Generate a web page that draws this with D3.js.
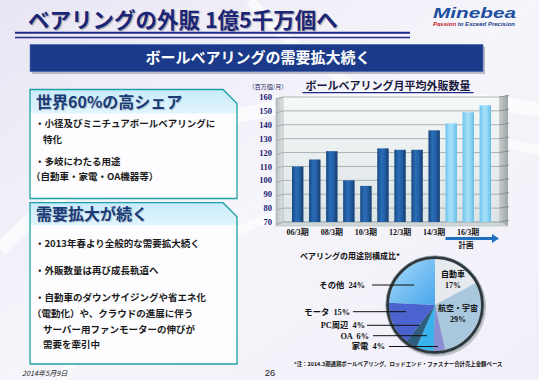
<!DOCTYPE html>
<html><head><meta charset="utf-8">
<script src="https://cdn.jsdelivr.net/npm/d3@7"></script>
<style>html,body{margin:0;padding:0;background:#fff}svg{display:block}</style>
</head><body><svg id="c" width="539" height="380"></svg>
<script>
// ---------- DATA ----------
const categories = ["06/3","07/3","08/3","09/3","10/3","11/3","12/3","13/3","14/3","15/3","16/3","17/3"];
const salesValues = [110,115,121,100,96,123,122,122,136,141,149,154];
const planFlags = [false,false,false,false,false,false,false,false,false,true,true,true];
const shownXLabels = ["06/3","08/3","10/3","12/3","14/3","16/3"];
const yTicks = [70,80,90,100,110,120,130,140,150,160];

const pieLabels = ["自動車","航空・宇宙","家電","OA","PC周辺","モータ","その他"];
const pieValues = [17,29,4,6,4,15,24];

const box1Lines = ["・小径及びミニチュアボールベアリングに","特化","・多岐にわたる用途","（自動車・家電・OA機器等）"];
const box2Lines = ["・2013年春より全般的な需要拡大続く","・外販数量は再び成長軌道へ","・自動車のダウンサイジングや省エネ化","（電動化）や、クラウドの進展に伴う","サーバー用ファンモーターの伸びが","需要を牽引中"];

// ---------- SETUP ----------
const JP = "'Noto Sans CJK JP','Noto Sans',sans-serif";
const SERIF = "'Liberation Serif','Noto Sans CJK JP',serif";
const svg = d3.select("#c");
const defs = svg.append("defs");

function linGrad(id, stops, x2, y2){
  const g = defs.append("linearGradient").attr("id", id).attr("x1",0).attr("y1",0).attr("x2",x2).attr("y2",y2);
  stops.forEach(s => g.append("stop").attr("offset", s[0]).attr("stop-color", s[1]));
}
linGrad("bg", [[0,"#e9e6f4"],[0.5,"#f6f5fb"],[1,"#f1eff8"]], 1, 1);
linGrad("barDark", [[0,"#17487f"],[0.35,"#2a6cb5"],[0.6,"#2563ab"],[1,"#143d70"]], 1, 0);
linGrad("barLight", [[0,"#6cc4ec"],[0.4,"#a6e0f8"],[0.65,"#98daf6"],[1,"#62bce6"]], 1, 0);
linGrad("wall", [[0,"#f7f8f8"],[1,"#dbe4e6"]], 0, 1);
linGrad("sideWall", [[0,"#b9bfc0"],[1,"#dfe3e3"]], 1, 0);
linGrad("rightWall", [[0,"#c9cdce"],[1,"#9ea5a6"]], 1, 0);
linGrad("boxHead", [[0,"#c6ebfb"],[1,"#e2f5fd"]], 0, 1);
linGrad("other", [[0,"#a6dcfa"],[1,"#4aa6ea"]], 1, 1);

// ---------- BACKGROUND ----------
svg.append("rect").attr("width",539).attr("height",380).attr("fill","url(#bg)");
const arcs = svg.append("g").attr("fill","none").attr("stroke","#ffffff").attr("opacity",0.7);
arcs.append("path").attr("d","M0,250 C120,120 330,70 539,110").attr("stroke-width",14);
arcs.append("path").attr("d","M60,380 C140,260 260,200 420,190").attr("stroke-width",9);
arcs.append("path").attr("d","M250,0 C300,60 380,120 539,150").attr("stroke-width",10);

// ---------- HEADER ----------
svg.append("text").attr("x",28).attr("y",20).attr("dy","0.36em")
  .attr("font-family",JP).attr("font-weight","bold").attr("font-size",21.5)
  .attr("fill","#1b2577").attr("style","text-shadow:1.2px 1.2px 1px rgba(0,0,0,0.3)")
  .text("ベアリングの外販 1億5千万個へ");
svg.append("line").attr("x1",15).attr("x2",410).attr("y1",32.7).attr("y2",32.7).attr("stroke","#1f2a86").attr("stroke-width",2);
svg.append("line").attr("x1",15).attr("x2",410).attr("y1",37.5).attr("y2",37.5).attr("stroke","#1f2a86").attr("stroke-width",1.3);

// logo
svg.append("text").attr("x",433).attr("y",18).attr("font-family","'Liberation Sans',Arial,sans-serif")
  .attr("font-weight","bold").attr("font-style","italic").attr("font-size",14)
  .attr("textLength",83).attr("lengthAdjust","spacingAndGlyphs").attr("fill","#1d4f9f").text("Minebea");
const tag = svg.append("text").attr("x",433).attr("y",25.5).attr("font-family","'Liberation Sans',Arial,sans-serif")
  .attr("font-weight","bold").attr("font-style","italic").attr("font-size",5.6)
  .attr("textLength",82).attr("lengthAdjust","spacingAndGlyphs");
tag.append("tspan").attr("fill","#c8202a").text("Passion");
tag.append("tspan").attr("fill","#1d3f8f").text(" to Exceed Precision");

// banner
svg.append("rect").attr("x",32).attr("y",46.5).attr("width",453).attr("height",27.4).attr("fill","#b9b9c6");
svg.append("rect").attr("x",30).attr("y",44.3).attr("width",453).attr("height",27.4).attr("fill","#1b3b8a").attr("stroke","#5a74b8").attr("stroke-width",0.6);
svg.append("text").attr("x",258).attr("y",58).attr("dy","0.36em").attr("text-anchor","middle")
  .attr("font-family",JP).attr("font-weight","bold").attr("font-size",15).attr("fill","#ffffff")
  .text("ボールベアリングの需要拡大続く");

// ---------- LEFT BOXES ----------
function box(x,y,w,h,hh,title,lines,lineYs,lineXs){
  const c = 14;
  const g = svg.append("g");
  g.append("path").attr("d",`M${x},${y}H${x+w-c}L${x+w},${y+c}V${y+h}H${x}Z`).attr("fill","#fdfdff");
  g.append("path").attr("d",`M${x},${y}H${x+w-c}L${x+w},${y+c}V${y+hh}H${x}Z`).attr("fill","url(#boxHead)");
  g.append("path").attr("d",`M${x},${y}H${x+w-c}L${x+w},${y+c}V${y+h}H${x}Z`).attr("fill","none").attr("stroke","#1ea0a4").attr("stroke-width",1.3);
  g.append("text").attr("x",x+6).attr("y",y+hh/2+0.5).attr("dy","0.36em")
    .attr("font-family",JP).attr("font-weight","bold").attr("font-size",16).attr("fill","#1a3a78")
    .attr("style","text-shadow:1px 1px 1px rgba(0,0,0,0.2)").text(title);
  lines.forEach((t,i)=>{
    g.append("text").attr("x",lineXs[i]).attr("y",lineYs[i]).attr("dy","0.36em")
      .attr("font-family",JP).attr("font-weight","bold").attr("font-size",9.5).attr("fill","#1a1a1a").text(t);
  });
}
box(30,89.5,207,109,24,"世界60%の高シェア",box1Lines,[123.5,139.5,161.5,176.5],[35,43,35,31]);
box(30,202.7,207,161.3,22.5,"需要拡大が続く",box2Lines,[243.5,270.5,298,314,330,345],[35,35,35,32,43,43]);

// footer
svg.append("text").attr("x",22).attr("y",373).attr("dy","0.36em").attr("font-family",JP)
  .attr("font-style","italic").attr("font-size",7.2).attr("fill","#222").text("2014年5月9日");
svg.append("text").attr("x",270).attr("y",373).attr("dy","0.36em").attr("text-anchor","middle")
  .attr("font-family","'Liberation Sans',Arial,sans-serif").attr("font-size",9.5).attr("fill","#222").text("26");

// ---------- BAR CHART ----------
const wallL = 283, wallR = 499, depth = 7;
const y = d3.scaleLinear().domain([70,160]).range([222,97]);
const x = d3.scaleBand().domain(categories).range([292,491]).paddingInner(0.33).paddingOuter(0);

const ch = svg.append("g");
ch.append("text").attr("x",268).attr("y",86.5).attr("dy","0.36em").attr("text-anchor","middle")
  .attr("font-family",JP).attr("font-size",6).attr("fill","#1a1a60").text("（百万個/月）");
ch.append("text").attr("x",388).attr("y",86.5).attr("dy","0.36em").attr("text-anchor","middle")
  .attr("font-family",JP).attr("font-weight","bold").attr("font-size",11).attr("fill","#1a1a40")
  .text("ボールベアリング月平均外販数量");
ch.append("line").attr("x1",302.5).attr("x2",473.5).attr("y1",92.6).attr("y2",92.6).attr("stroke","#1f2a86").attr("stroke-width",1.2);

// walls
ch.append("rect").attr("x",wallL).attr("y",y(160)).attr("width",wallR-wallL).attr("height",y(70)-y(160)).attr("fill","url(#wall)");
ch.append("path").attr("d",`M${wallL-depth},${y(160)+2}L${wallL},${y(160)}V${y(70)}L${wallL-depth},${y(70)+4}Z`).attr("fill","url(#sideWall)").attr("stroke","#9aa2a3").attr("stroke-width",0.5);
ch.append("path").attr("d",`M${wallR},${y(160)}L${wallR+depth+2},${y(160)-2}V${y(70)+4}L${wallR},${y(70)}Z`).attr("fill","url(#rightWall)");
ch.append("path").attr("d",`M${wallL},${y(70)}H${wallR}L${wallR+depth+2},${y(70)+4}H${wallL-depth}Z`).attr("fill","#cfd7d8").attr("stroke","#aab2b3").attr("stroke-width",0.5);

// grid
ch.append("g").selectAll("path").data(yTicks).join("path")
  .attr("d",d=>`M${wallL-depth},${y(d)+2}L${wallL},${y(d)}H${wallR}`)
  .attr("fill","none").attr("stroke","#9aa3a5").attr("stroke-width",0.8);
ch.append("g").selectAll("line").data(yTicks).join("line")
  .attr("x1",wallR).attr("x2",wallR+depth+3).attr("y1",d=>y(d)).attr("y2",d=>y(d)-1.5)
  .attr("stroke","#7d8586").attr("stroke-width",0.8);

// y labels
ch.append("g").selectAll("text").data(yTicks).join("text")
  .attr("x",272).attr("y",d=>y(d)).attr("dy","0.36em").attr("text-anchor","end")
  .attr("font-family",SERIF).attr("font-weight","bold").attr("font-size",8.5).attr("fill","#1c1c72")
  .text(d=>d);

// bars
ch.append("g").selectAll("rect").data(categories).join("rect")
  .attr("x",d=>x(d)).attr("width",x.bandwidth())
  .attr("y",(d,i)=>y(salesValues[i])).attr("height",(d,i)=>y(70)-y(salesValues[i]))
  .attr("fill",(d,i)=>planFlags[i]?"url(#barLight)":"url(#barDark)");

// x labels
ch.append("g").selectAll("text").data(shownXLabels).join("text")
  .attr("x",d=>x(d)+x.bandwidth()/2).attr("y",232).attr("dy","0.36em").attr("text-anchor","middle")
  .attr("font-family",SERIF).attr("font-weight","bold").attr("font-size",8).attr("fill","#111")
  .text(d=>d+"期");

// plan arrow
const planStart = x(categories[planFlags.indexOf(true)]);
ch.append("line").attr("x1",planStart).attr("x2",wallR-6).attr("y1",238.5).attr("y2",238.5).attr("stroke","#2170c0").attr("stroke-width",3);
ch.append("path").attr("d",`M${wallR-7},234L${wallR},238.5L${wallR-7},243Z`).attr("fill","#2170c0");
ch.append("text").attr("x",466).attr("y",245.5).attr("dy","0.36em").attr("text-anchor","middle")
  .attr("font-family",JP).attr("font-weight","bold").attr("font-size",7.5).attr("fill","#111").text("計画");

// ---------- PIE ----------
const cx = 435, cy = 305, r = 46;
const pieColors = ["#e6e9ee","#a9c7dd","#8a8fd3","#39b3ec","#2f5d7e","#4b63ce","url(#other)"];
svg.append("text").attr("x",300).attr("y",256).attr("dy","0.36em")
  .attr("font-family",JP).attr("font-weight","bold").attr("font-size",8).attr("fill","#111")
  .text("ベアリングの用途別構成比*");
svg.append("circle").attr("cx",cx+1.5).attr("cy",cy+2).attr("r",r+3.5).attr("fill","#8d9498").attr("opacity",0.5);
const pie = d3.pie().sort(null).value(d=>d)(pieValues);
const arcGen = d3.arc().innerRadius(0).outerRadius(r);
const pg = svg.append("g").attr("transform",`translate(${cx},${cy})`);
pg.selectAll("path").data(pie).join("path").attr("d",arcGen).attr("fill",(d,i)=>pieColors[i]);
pg.append("circle").attr("r",r+1.5).attr("fill","none").attr("stroke","#2b363d").attr("stroke-width",3);
pg.append("circle").attr("r",r+3.2).attr("fill","none").attr("stroke","#8a9499").attr("stroke-width",0.8);

// inner labels
const inner = [{i:0,dx:18,dy:-31},{i:1,dx:23,dy:3}];
inner.forEach(o=>{
  pg.append("text").attr("x",o.dx).attr("y",o.dy).attr("dy","0.36em").attr("text-anchor","middle")
    .attr("font-family",JP).attr("font-weight","bold").attr("font-size",8).attr("fill","#111").text(pieLabels[o.i]);
  pg.append("text").attr("x",o.dx).attr("y",o.dy+11).attr("dy","0.36em").attr("text-anchor","middle")
    .attr("font-family",SERIF).attr("font-weight","bold").attr("font-size",8).attr("fill","#111").text(pieValues[o.i]+"%");
});
// outer labels with leader lines
const outer = [
  {i:6, tx:365, ty:285, lx1:372, lx2:414},
  {i:5, tx:350, ty:311.7, lx1:353, lx2:406},
  {i:4, tx:365, ty:325.3, lx1:367, lx2:419},
  {i:3, tx:369, ty:335.7, lx1:373, lx2:427},
  {i:2, tx:385, ty:346.5, lx1:389, lx2:438}
];
outer.forEach(o=>{
  svg.append("text").attr("x",o.tx).attr("y",o.ty).attr("dy","0.36em").attr("text-anchor","end")
    .attr("font-family",SERIF).attr("font-weight","bold").attr("font-size",8.3).attr("fill","#111")
    .attr("style","white-space:pre").text(pieLabels[o.i]+"  "+pieValues[o.i]+"%");
  svg.append("line").attr("x1",o.lx1).attr("x2",o.lx2).attr("y1",o.ty).attr("y2",o.ty).attr("stroke","#111").attr("stroke-width",1);
});
svg.append("text").attr("x",294).attr("y",364.5).attr("dy","0.36em")
  .attr("font-family",JP).attr("font-weight","bold").attr("font-size",5.4).attr("fill","#111")
  .text("*注：2014.3期通期ボールベアリング、ロッドエンド・ファスナー合計売上金額ベース");
</script></body></html>
